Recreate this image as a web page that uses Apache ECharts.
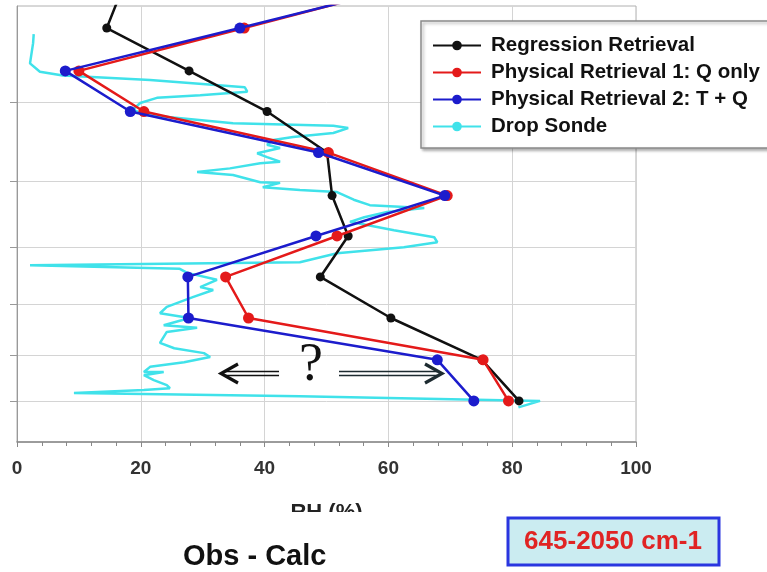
<!DOCTYPE html>
<html>
<head>
<meta charset="utf-8">
<script src="https://cdn.jsdelivr.net/npm/echarts@6/dist/echarts.min.js"></script>
<style>
  html, body { margin: 0; padding: 0; background: #fff; }
  #chart { width: 767px; height: 572px; }
</style>
</head>
<body>
<div id="chart"></div>
<script>
// ---- data (RH in %, pressure in hPa) ----
const pressureLevels = [383, 421, 465, 511, 562, 621, 682, 750, 825, 909, 1000];
const regressionRH  = [17.1, 14.5, 27.8, 40.4, 50.1, 50.9, 53.5, 49.0, 60.4, 75.1, 81.1];
const physical1RH   = [61.8, 36.7, 10.0, 20.5, 50.3, 69.5, 51.7, 33.7, 37.4, 75.3, 79.4];
const physical2RH   = [62.3, 36.0, 7.8, 18.3, 48.7, 69.1, 48.3, 27.6, 27.7, 67.9, 73.8];

const sondeRH = [2.7,2.6,2.1,3.7,7.4,21.5,36.8,37.2,29.6,22.6,19.9,18.7,21.0,34.9,51.1,
  53.5,51.1,44.6,41.4,40.4,42.5,38.8,40.4,42.5,39.3,34.4,29.1,34.9,39.3,42.5,
  39.7,45.7,51.7,54.4,57.0,65.8,59.8,56.1,53.8,60.9,67.4,67.9,62.5,51.7,45.7,
  2.1,26.3,27.5,32.3,29.6,31.7,28.4,24.2,23.1,27.9,23.7,29.1,24.2,23.1,25.4,
  30.2,31.2,27.0,21.5,20.5,23.7,20.5,22.1,24.2,24.7,20.5,9.2,45.7,84.5,81.0];
const sondeP = [427,436,457,466,470,475,483,488,492,495,501,509,515,525,528,
  531,537,542,546,552,556,563,568,574,576,583,588,592,602,603,
  609,613,616,627,635,639,645,653,660,673,684,692,700,710,725,
  730,736,743,755,768,773,786,804,816,825,839,844,852,874,885,
  895,903,914,924,935,935,942,953,964,971,975,982,989,1000,1015];

const xTickValues = [0, 20, 40, 60, 80, 100];
const gridPressures = [500, 600, 700, 800, 900, 1000];

const seriesNames = ['Regression Retrieval', 'Physical Retrieval 1: Q only', 'Physical Retrieval 2: T + Q', 'Drop Sonde'];

function pairs(xs, ys) { return xs.map((x, i) => [x, ys[i]]); }

const chart = echarts.init(document.getElementById('chart'));
const FONT = '"Liberation Sans", Arial, sans-serif';

chart.setOption({
  animation: false,
  grid: { left: 17, right: 131, top: 6, bottom: 130, show: true, borderColor: '#b0b0b0', borderWidth: 1 },
  xAxis: {
    type: 'value', min: 0, max: 100, interval: 20,
    name: 'RH (%)', nameLocation: 'middle', nameGap: 60,
    nameTextStyle: { fontFamily: FONT, fontWeight: 'bold', fontSize: 22, color: '#222' },
    axisLine: { show: true, lineStyle: { color: '#888', width: 1.5 } },
    axisTick: { show: true, length: 5, lineStyle: { color: '#888' } },
    minorTick: { show: true, splitNumber: 5, length: 4, lineStyle: { color: '#888' } },
    axisLabel: { margin: 17, fontFamily: FONT, fontWeight: 'bold', fontSize: 19, color: '#333',
      customValues: xTickValues },
    splitLine: { show: true, lineStyle: { color: '#d4d4d4', width: 1 } }
  },
  yAxis: {
    type: 'log', inverse: true, min: 400, max: 1100,
    axisLine: { show: true, lineStyle: { color: '#999' } },
    axisTick: { show: true, length: 7, lineStyle: { color: '#999' }, customValues: gridPressures },
    axisLabel: { show: false },
    splitLine: { show: true, lineStyle: { color: '#d4d4d4', width: 1 } }
  },
  legend: {
    orient: 'vertical', left: 421, top: 21,
    padding: [14, 30, 11, 11], itemGap: 6,
    itemWidth: 48, itemHeight: 12,
    backgroundColor: '#fff', borderColor: '#8a8a8a', borderWidth: 1.5,
    shadowColor: 'rgba(0,0,0,0.3)', shadowBlur: 3, shadowOffsetX: 2, shadowOffsetY: 2,
    textStyle: { fontFamily: FONT, fontWeight: 'bold', fontSize: 20.5, color: '#111', padding: [0, 0, 0, 5] },
    data: seriesNames
  },
  series: [
    {
      name: seriesNames[3], type: 'line', z: 1,
      data: pairs(sondeRH, sondeP), showSymbol: false, symbol: 'none',
      lineStyle: { color: '#40e2ea', width: 2.5 }, itemStyle: { color: '#40e2ea' }
    },
    {
      name: seriesNames[0], type: 'line', z: 2,
      data: pairs(regressionRH, pressureLevels), symbol: 'circle', symbolSize: 9,
      lineStyle: { color: '#111', width: 2.5 }, itemStyle: { color: '#111' }
    },
    {
      name: seriesNames[1], type: 'line', z: 3,
      data: pairs(physical1RH, pressureLevels), symbol: 'circle', symbolSize: 11,
      lineStyle: { color: '#e41a1a', width: 2.5 }, itemStyle: { color: '#e41a1a' }
    },
    {
      name: seriesNames[2], type: 'line', z: 4,
      data: pairs(physical2RH, pressureLevels), symbol: 'circle', symbolSize: 11,
      lineStyle: { color: '#1c1ccc', width: 2.5 }, itemStyle: { color: '#1c1ccc' }
    }
  ],
  graphic: [
    { type: 'rect', z: 50, shape: { x: 260, y: 512, width: 150, height: 29 }, style: { fill: '#fff' } },
    { type: 'text', z: 60, x: 183, y: 542,
      style: { text: 'Obs - Calc', font: 'bold 29px ' + FONT, fill: '#111', textVerticalAlign: 'top' } },
    { type: 'rect', z: 60, shape: { x: 508, y: 518, width: 211, height: 47 },
      style: { fill: '#cbecf1', stroke: '#2a36e0', lineWidth: 3 } },
    { type: 'text', z: 61, x: 613, y: 542,
      style: { text: '645-2050 cm-1', font: 'bold 26px ' + FONT, fill: '#e02424', textAlign: 'center', textVerticalAlign: 'middle' } },
    { type: 'text', z: 60, x: 311, y: 366,
      style: { text: '?', font: '54px "Liberation Serif", "DejaVu Serif", serif', fill: '#111', textAlign: 'center', textVerticalAlign: 'middle' } },
    // left double arrow
    { type: 'line', z: 60, shape: { x1: 224, y1: 371.5, x2: 279, y2: 371.5 }, style: { stroke: '#111', lineWidth: 1.6 } },
    { type: 'line', z: 60, shape: { x1: 224, y1: 375.5, x2: 279, y2: 375.5 }, style: { stroke: '#111', lineWidth: 1.6 } },
    { type: 'polyline', z: 60, shape: { points: [[238, 364], [221, 373.5], [238, 383]] }, style: { stroke: '#111', lineWidth: 3.2, fill: null } },
    // right double arrow
    { type: 'line', z: 60, shape: { x1: 339, y1: 371.5, x2: 437, y2: 371.5 }, style: { stroke: '#1d2b30', lineWidth: 1.6 } },
    { type: 'line', z: 60, shape: { x1: 339, y1: 375.5, x2: 437, y2: 375.5 }, style: { stroke: '#1d2b30', lineWidth: 1.6 } },
    { type: 'polyline', z: 60, shape: { points: [[425, 364], [442, 373.5], [425, 383]] }, style: { stroke: '#1d2b30', lineWidth: 3.2, fill: null } }
  ]
});
</script>
</body>
</html>
